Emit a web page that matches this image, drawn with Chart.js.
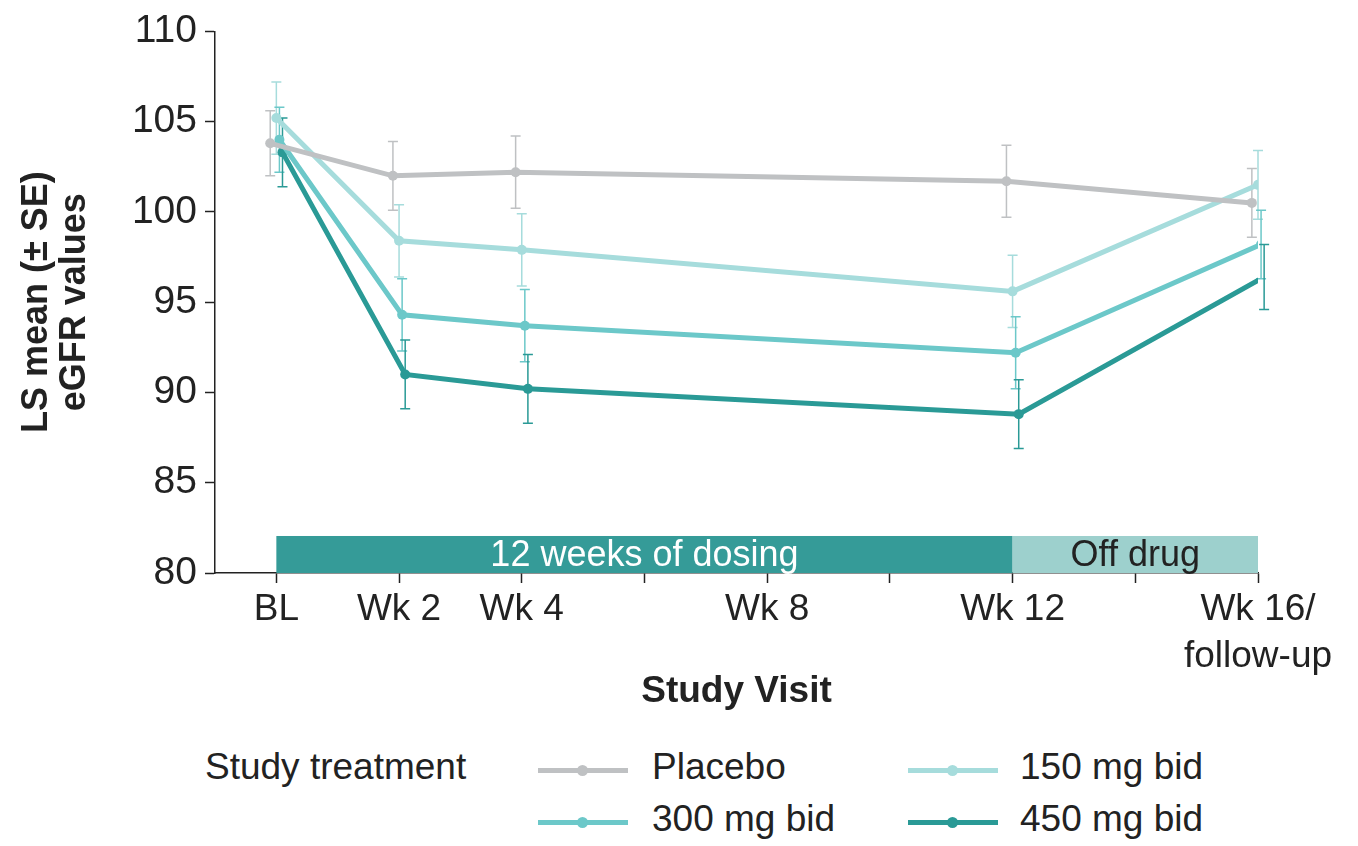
<!DOCTYPE html>
<html><head><meta charset="utf-8">
<script src="https://cdn.jsdelivr.net/npm/chart.js@4"></script>
<style>
 body{margin:0;background:#fff;font-family:Arial,"Liberation Sans",sans-serif;}
 #wrap{position:absolute;left:0;top:0;width:1358px;height:720px;}
 .lg{position:absolute;font-size:37px;color:#222;}
 .sw{position:absolute;height:5px;width:90px;}
 .sw i{position:absolute;left:39px;top:-3px;width:11px;height:11px;border-radius:50%;background:inherit;}
</style></head><body>
<div id="wrap"><canvas id="c"></canvas></div>
<div class="lg" style="left:205px;top:746px">Study treatment</div>
<div class="sw" style="left:538px;top:768px;background:#bfc1c3"><i></i></div><div class="lg" style="left:652px;top:746px">Placebo</div>
<div class="sw" style="left:908px;top:768px;background:#a6dcdc"><i></i></div><div class="lg" style="left:1020px;top:746px">150 mg bid</div>
<div class="sw" style="left:538px;top:820px;background:#6cc8c9"><i></i></div><div class="lg" style="left:652px;top:798px">300 mg bid</div>
<div class="sw" style="left:908px;top:820px;background:#2a9a96"><i></i></div><div class="lg" style="left:1020px;top:798px">450 mg bid</div>
<script>
// ── DADOS ─────────────────────────────────────────────
const weeks      = [0, 2, 4, 12, 16];
const tickLabels = {0: 'BL', 2: 'Wk 2', 4: 'Wk 4', 8: 'Wk 8', 12: 'Wk 12', 16: ['Wk 16/', 'follow-up']};
const placebo    = [103.8, 102.0, 102.2, 101.7, 100.5];
const placeboSE  = [1.8, 1.9, 2.0, 2.0, 1.9];
const mg150      = [105.2, 98.4, 97.9, 95.6, 101.5];
const mg150SE    = [2.0, 2.0, 2.0, 2.0, 1.9];
const mg300      = [104.0, 94.3, 93.7, 92.2, 98.2];
const mg300SE    = [1.8, 2.0, 2.0, 2.0, 1.9];
const mg450      = [103.3, 91.0, 90.2, 88.8, 96.4];
const mg450SE    = [1.9, 1.9, 1.9, 1.9, 1.8];
const phases     = [{from: 0, to: 12, label: '12 weeks of dosing', color: '#359b98'},
                    {from: 12, to: 16, label: 'Off drug', color: '#9dd0cd'}];
const phaseTop   = 82.05;

function ds(label, vals, se, color, dx) {
  return {
    label, se,
    data: vals.map((v, i) => ({x: weeks[i] + dx, y: v})),
    borderColor: color, backgroundColor: color,
    borderWidth: 5, pointRadius: 5, pointBorderWidth: 0, tension: 0
  };
}

// barras de fase e erro padrão
const extras = {
  id: 'extras',
  beforeDatasetsDraw(chart) {
    const {ctx, scales: {x, y}} = chart;
    ctx.save();
    ctx.font = '36px Arial, "Liberation Sans", sans-serif';
    ctx.textAlign = 'center'; ctx.textBaseline = 'middle';
    phases.forEach(p => {
      const x0 = x.getPixelForValue(p.from), x1 = x.getPixelForValue(p.to);
      const y0 = y.getPixelForValue(phaseTop), y1 = y.getPixelForValue(80);
      ctx.fillStyle = p.color;
      ctx.fillRect(x0, y0, x1 - x0, y1 - y0);
      ctx.fillStyle = p.from === 0 ? '#fff' : '#222';
      ctx.fillText(p.label, (x0 + x1) / 2, (y0 + y1) / 2 + 2);
    });
    chart.data.datasets.forEach(d => {
      ctx.strokeStyle = d.borderColor; ctx.lineWidth = 1.5;
      d.data.forEach((pt, i) => {
        const px = x.getPixelForValue(pt.x);
        const lo = y.getPixelForValue(pt.y - d.se[i]), hi = y.getPixelForValue(pt.y + d.se[i]);
        ctx.beginPath();
        ctx.moveTo(px, lo); ctx.lineTo(px, hi);
        ctx.moveTo(px - 5, lo); ctx.lineTo(px + 5, lo);
        ctx.moveTo(px - 5, hi); ctx.lineTo(px + 5, hi);
        ctx.stroke();
      });
    });
    ctx.restore();
  }
};

const font = {family: 'Arial, "Liberation Sans", sans-serif', size: 37};
const axGrid = {display: true, drawOnChartArea: false, drawTicks: true, tickLength: 10, tickColor: '#222', tickWidth: 1.5};
new Chart(document.getElementById('c'), {
  type: 'line',
  data: {datasets: [
    ds('Placebo', placebo, placeboSE, '#bfc1c3', -0.1),
    ds('150 mg bid', mg150, mg150SE, '#a6dcdc', 0),
    ds('300 mg bid', mg300, mg300SE, '#6cc8c9', 0.05),
    ds('450 mg bid', mg450, mg450SE, '#2a9a96', 0.1)
  ]},
  options: {
    responsive: true, maintainAspectRatio: false, animation: false,
    layout: {padding: {top: 18, right: 100, left: 14, bottom: 0}},
    plugins: {legend: {display: false}, tooltip: {enabled: false}},
    scales: {
      x: {
        type: 'linear', min: -1, max: 16,
        afterBuildTicks: ax => { ax.ticks = [0, 2, 4, 6, 8, 10, 12, 14, 16].map(v => ({value: v})); },
        afterFit: ax => { ax.height = 147; },
        grid: axGrid,
        border: {color: '#222', width: 1.5},
        ticks: {color: '#222', font: {...font, lineHeight: 1.25}, maxRotation: 0, autoSkip: false, padding: 4,
                callback: v => tickLabels[v] || ''},
        title: {display: true, text: 'Study Visit', color: '#222',
                font: {...font, weight: 'bold'}, padding: {top: 0, bottom: 6}}
      },
      y: {
        min: 80, max: 110,
        afterFit: ax => { ax.width = 201; },
        grid: axGrid,
        border: {color: '#222', width: 1.5},
        ticks: {stepSize: 5, color: '#222', font: {...font, size: 39}, padding: 8},
        title: {display: true, text: ['LS mean (± SE)', 'eGFR values'], color: '#222',
                font: {...font, size: 36, weight: 'bold', lineHeight: 1.05}, padding: {bottom: 0}}
      }
    }
  },
  plugins: [extras]
});
</script>
</body></html>
